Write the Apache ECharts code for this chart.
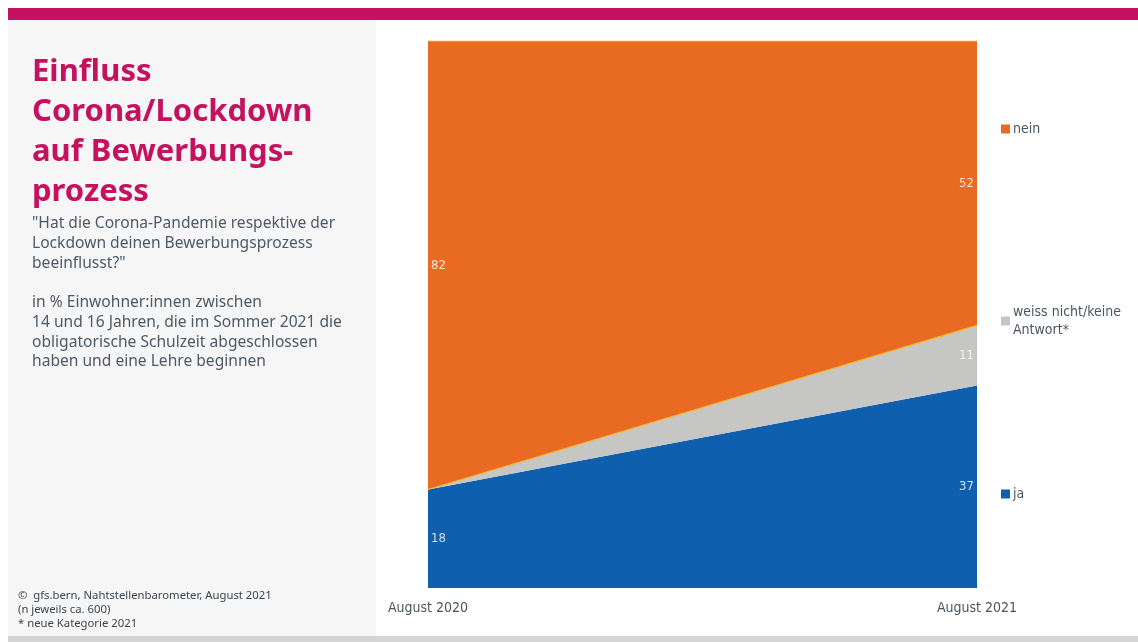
<!DOCTYPE html>
<html><head><meta charset="utf-8">
<script src="https://cdn.jsdelivr.net/npm/echarts@6/dist/echarts.min.js"></script>
<style>html,body{margin:0;padding:0;background:#fff}#c{width:1138px;height:642px}</style>
</head><body><div id="c"></div>
<script>
var categories = ['August 2020', 'August 2021'];
var seriesNames = ['ja', 'weiss nicht/keine Antwort*', 'nein'];
var ja = [18, 37];
var weissNicht = [0, 11];
var nein = [82, 52];
var colors = ['#0e60ae', '#c6c6c4', '#e96a22'];

var values = [ja, weissNicht, nein];
var font = '"Liberation Sans Narrow","DejaVu Sans Condensed","Noto Sans",sans-serif';
var textFont = '"Noto Sans","Open Sans",sans-serif';

// label points at segment middles
var labelLeft = [], labelRight = [];
var cum = [0, 0];
values.forEach(function (arr) {
  arr.forEach(function (v, i) {
    if (v > 0) {
      var pt = { value: [i, cum[i] + v / 2], lab: v };
      (i === 0 ? labelLeft : labelRight).push(pt);
    }
    cum[i] += v;
  });
});

var chart = echarts.init(document.getElementById('c'));
var areaSeries = values.map(function (arr, k) {
  return {
    name: seriesNames[k], type: 'line', stack: 'all', data: arr,
    symbol: 'none', color: colors[k],
    areaStyle: { color: colors[k], opacity: 1 },
    lineStyle: k === 0 ? { width: 0 } : { width: 1.2, color: '#f7b52c' },
    z: 2
  };
});
function labSeries(data, pos) {
  return {
    type: 'scatter', data: data, symbolSize: 0, silent: true, z: 5,
    label: { show: true, position: pos, distance: 3, color: '#fff', fontFamily: font, fontSize: 13,
      formatter: function (p) { return p.data.lab; } }
  };
}
chart.setOption({
  animation: false,
  grid: { left: 428, right: 161, top: 41, bottom: 54 },
  xAxis: { type: 'category', data: categories, boundaryGap: false,
    axisLine: { show: false }, axisTick: { show: false }, splitLine: { show: false },
    axisLabel: { color: '#4a5560', fontFamily: font, fontSize: 14, margin: 13,
      interval: 0 } },
  yAxis: { type: 'value', min: 0, max: 100, show: false },
  legend: [
    { data: [seriesNames[2]], left: 996, top: 115 },
    { data: [seriesNames[1]], left: 996, top: 298, formatter: function () { return 'weiss nicht/keine\nAntwort*'; } },
    { data: [seriesNames[0]], left: 996, top: 480 }
  ].map(function (l) {
    l.orient = 'vertical'; l.icon = 'rect'; l.itemWidth = 9; l.itemHeight = 9; l.itemGap = 4;
    l.selectedMode = false;
    l.textStyle = { color: '#4a5560', fontFamily: font, fontSize: 14, lineHeight: 18, padding: [0, 0, 0, -2] };
    return l;
  }),
  graphic: [
    { type: 'rect', shape: { x: 8, y: 8, width: 1130, height: 12 }, style: { fill: '#c41260' }, z: 100 },
    { type: 'rect', shape: { x: 8, y: 20, width: 368, height: 616 }, style: { fill: '#f6f6f6' }, z: -10 },
    { type: 'rect', shape: { x: 8, y: 636, width: 1130, height: 6 }, style: { fill: '#d4d4d4' }, z: 100 },
    { type: 'text', left: 32, top: 52, style: { text: 'Einfluss\nCorona/Lockdown\nauf Bewerbungs-\nprozess',
      fill: '#c41260', font: 'bold 31px ' + textFont, lineHeight: 40 } },
    { type: 'text', left: 32, top: 214, style: { text: '"Hat die Corona-Pandemie respektive der\nLockdown deinen Bewerbungsprozess\nbeeinflusst?"\n\nin % Einwohner:innen zwischen\n14 und 16 Jahren, die im Sommer 2021 die\nobligatorische Schulzeit abgeschlossen\nhaben und eine Lehre beginnen',
      fill: '#4c5a67', font: '15.6px ' + textFont, lineHeight: 19.7 } },
    { type: 'text', left: 18, top: 589, style: { text: '\u00a9  gfs.bern, Nahtstellenbarometer, August 2021\n(n jeweils ca. 600)\n* neue Kategorie 2021',
      fill: '#3c4650', font: '11.3px ' + textFont, lineHeight: 14 } }
  ],
  series: areaSeries.concat([labSeries(labelLeft, 'right'), labSeries(labelRight, 'left')])
});
</script></body></html>
